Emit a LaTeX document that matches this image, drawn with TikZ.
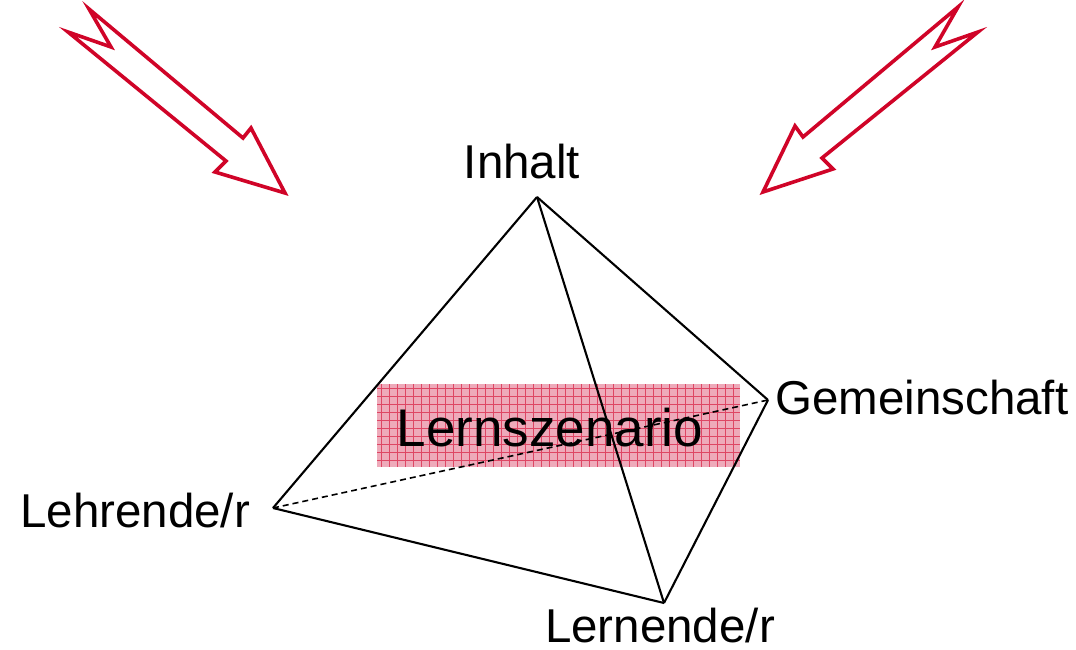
\documentclass[tikz,border=0pt]{standalone}
\usepackage{fontspec}
\setmainfont{Liberation Sans}
\definecolor{arrowred}{RGB}{208,4,40}
\definecolor{boxpink}{RGB}{238,170,186}
\definecolor{gridred}{RGB}{222,70,100}
\begin{document}
\begin{tikzpicture}[x=1pt,y=-1pt,
  edge/.style={line width=2.1pt,black,line join=round},
  hidden/.style={line width=1.6pt,black,dash pattern=on 6pt off 4pt},
  bigarrow/.style={line width=3.6pt,draw=arrowred,line join=miter},
  lbl/.style={font=\fontsize{47.5}{52}\selectfont,inner sep=0pt}]
\useasboundingbox (0,0) rectangle (1076,650);
% vertices
\coordinate (I) at (537,197);
\coordinate (G) at (768,400);
\coordinate (L) at (273,508);
\coordinate (S) at (664,603);
% Lernszenario box
\fill[boxpink] (377,384) rectangle (740,467);
\foreach \gx in {381,389,...,740} \draw[gridred,line width=0.7pt] (\gx,384) -- (\gx,467);
\foreach \gy in {388,396,...,467} \draw[gridred,line width=0.7pt] (377,\gy) -- (740,\gy);
\node[font=\fontsize{53}{58}\selectfont,inner sep=0pt] (scen) at (550,428) {Lernszenario};
% edges
\draw[edge] (I) -- (L);
\draw[edge] (I) -- (G);
\draw[edge] (I) -- (S);
\draw[edge] (L) -- (S);
\draw[edge] (S) -- (G);
\draw[hidden] (L) -- (G);
% labels
\node[lbl] (inhalt) at (522,162) {Inhalt};
\node[lbl,anchor=west] (gem) at (775,398) {Gemeinschaft};
\node[lbl,anchor=west] (lehr) at (20,511) {Lehrende/r};
\node[lbl,anchor=base] (lern) at (660,642) {Lernende/r};
% red arrows
\draw[bigarrow] (89,9) -- (243,138) -- (251,128) -- (285,193) -- (215,172) -- (226,161) -- (68,32) -- (111,47) -- cycle;
\draw[bigarrow] (958,7) -- (803,137) -- (795,126) -- (763,192) -- (833,169) -- (822,158) -- (978,32) -- (935,47) -- cycle;
\end{tikzpicture}
\end{document}
